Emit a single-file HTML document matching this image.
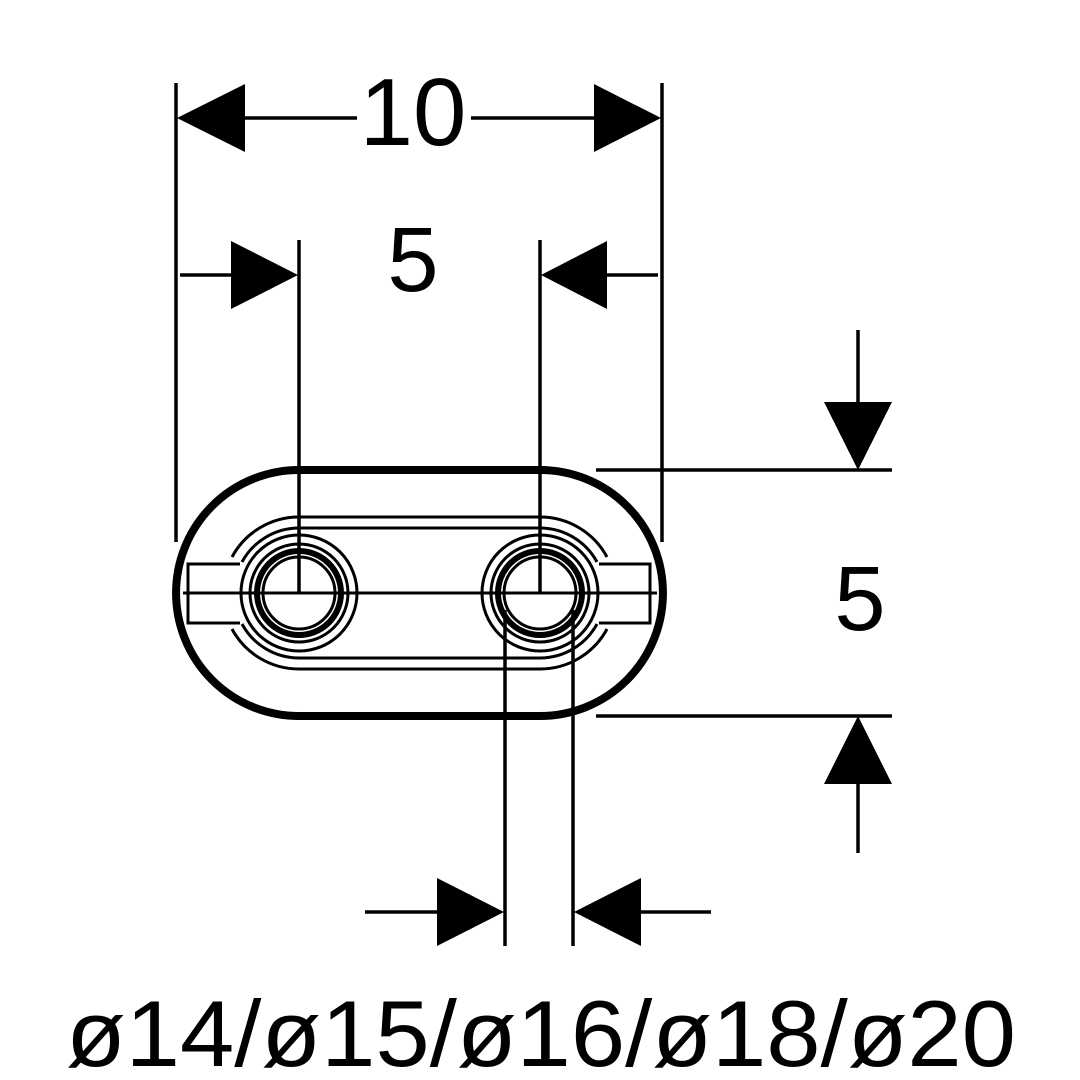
<!DOCTYPE html>
<html><head><style>html,body{margin:0;padding:0;background:#fff}svg{display:block}</style></head>
<body>
<svg width="1080" height="1080" viewBox="0 0 1080 1080" xmlns="http://www.w3.org/2000/svg">
<g stroke="#000" fill="none">
<path d="M299,470 H540 A123,123 0 0 1 540,716 H299 A123,123 0 0 1 299,470 Z" stroke-width="8"/>
<g stroke-width="3">
<path d="M299,517 H540 A76,76 0 0 1 607,557 M607,629 A76,76 0 0 1 540,669 H299 A76,76 0 0 1 232,629 M232,557 A76,76 0 0 1 299,517"/>
<path d="M299,528 H540 A65,65 0 0 1 597,562 M597,624 A65,65 0 0 1 540,658 H299 A65,65 0 0 1 242,624 M242,562 A65,65 0 0 1 299,528"/>
<path d="M240,564 H188 V623 H240"/>
<path d="M599,564 H650 V623 H599"/>
<line x1="183" y1="593" x2="657" y2="593"/>
<circle cx="299" cy="593" r="58"/>
<circle cx="299" cy="593" r="49"/>
<circle cx="299" cy="593" r="36"/>
<circle cx="540" cy="593" r="58"/>
<circle cx="540" cy="593" r="49"/>
<circle cx="540" cy="593" r="36"/>
</g>
<circle cx="299" cy="593" r="42" stroke-width="6"/>
<circle cx="540" cy="593" r="42" stroke-width="6"/>
<g stroke-width="3.5">
<line x1="176" y1="83" x2="176" y2="542"/>
<line x1="662" y1="83" x2="662" y2="542"/>
<line x1="299" y1="240" x2="299" y2="593"/>
<line x1="540" y1="240" x2="540" y2="593"/>
<line x1="505" y1="610" x2="505" y2="946"/>
<line x1="573" y1="610" x2="573" y2="946"/>
<line x1="596" y1="470" x2="892" y2="470"/>
<line x1="596" y1="716" x2="892" y2="716"/>
<line x1="245" y1="118" x2="357" y2="118"/>
<line x1="471" y1="118" x2="594" y2="118"/>
<line x1="180" y1="275" x2="231" y2="275"/>
<line x1="607" y1="275" x2="658" y2="275"/>
<line x1="858" y1="330" x2="858" y2="402"/>
<line x1="858" y1="784" x2="858" y2="853"/>
<line x1="365" y1="912" x2="437" y2="912"/>
<line x1="641" y1="912" x2="711" y2="912"/>
</g>
</g>
<g fill="#000">
<polygon points="177,118 245,84 245,152"/>
<polygon points="661,118 594,84 594,152"/>
<polygon points="298,275 231,241 231,309"/>
<polygon points="541,275 607,241 607,309"/>
<polygon points="858,470 824,402 892,402"/>
<polygon points="858,716 824,784 892,784"/>
<polygon points="504,912 437,878 437,946"/>
<polygon points="574,912 641,878 641,946"/>
</g>
<g font-family="'Liberation Sans', sans-serif" fill="#000">
<text x="413" y="145" font-size="96" text-anchor="middle">10</text>
<text x="413" y="291" font-size="92" text-anchor="middle">5</text>
<text x="860" y="630" font-size="92" text-anchor="middle">5</text>
<text x="66" y="1066" font-size="94" textLength="950" lengthAdjust="spacingAndGlyphs">ø14/ø15/ø16/ø18/ø20</text>
</g>
</svg>
</body></html>
